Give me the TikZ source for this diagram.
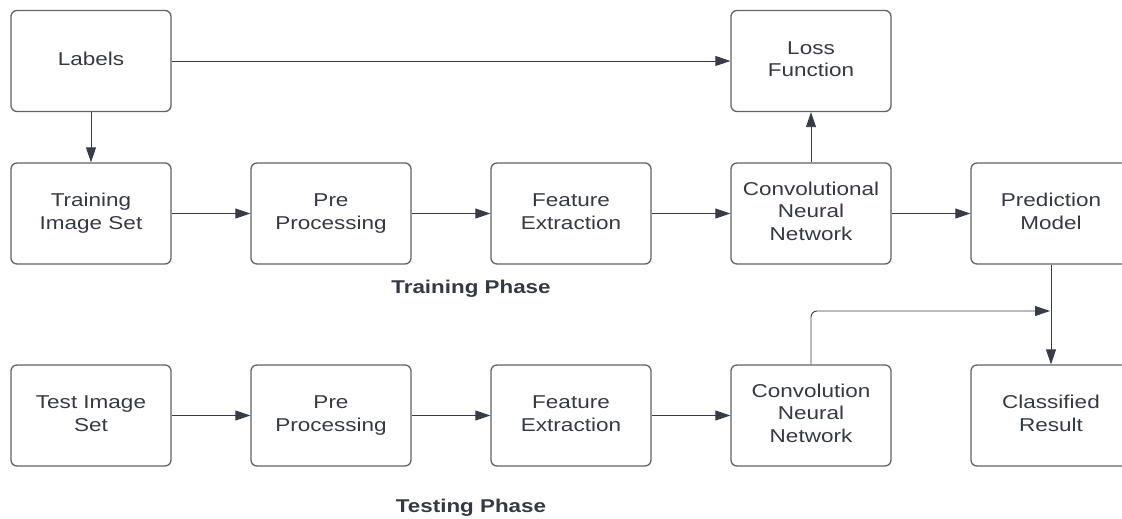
\documentclass[tikz,border=0pt]{standalone}
\usepackage{fontspec}
\setmainfont[FakeStretch=1.21]{Liberation Sans}
\usetikzlibrary{arrows.meta}
\definecolor{txt}{RGB}{52,58,68}
\definecolor{bord}{RGB}{95,100,108}
\definecolor{arrc}{RGB}{55,61,72}
\newcommand{\btxt}[2][3pt]{\raisebox{#1}{\begin{tabular}{@{}c@{}}#2\end{tabular}}}
\tikzset{
  box/.style={draw=bord, line width=1.3pt, rounded corners=6pt, minimum width=160pt, minimum height=101pt,
    inner sep=0pt, align=center, text=txt, font=\fontsize{18.6}{22.3}\selectfont},
  arr/.style={draw=arrc, line width=0.9pt, -{Triangle[length=15pt,width=10pt]}},
  phase/.style={text=txt, font=\fontsize{18.5}{22}\selectfont\bfseries}
}
\begin{document}
\begin{tikzpicture}[x=1pt,y=-1pt]
\useasboundingbox (0,0) rectangle (1122,519);
\clip (0,0) rectangle (1122,519);
\fill[white] (0,0) rectangle (1122,519);
% top row
\node[box] (lab) at (91,61) {\btxt[1pt]{Labels}};
\node[box] (loss) at (811,61) {\btxt{Loss\\Function}};
% training row
\node[box] (tis) at (91,213.5) {\btxt{Training\\Image Set}};
\node[box] (pp1) at (331,213.5) {\btxt{Pre\\Processing}};
\node[box] (fe1) at (571,213.5) {\btxt{Feature\\Extraction}};
\node[box] (cnn1) at (811,213.5) {\btxt[2pt]{Convolutional\\Neural\\Network}};
\node[box] (pred) at (1051,213.5) {\btxt{Prediction\\Model}};
% testing row
\node[box] (tes) at (91,415.5) {\btxt{Test Image\\Set}};
\node[box] (pp2) at (331,415.5) {\btxt{Pre\\Processing}};
\node[box] (fe2) at (571,415.5) {\btxt{Feature\\Extraction}};
\node[box] (cnn2) at (811,415.5) {\btxt[2pt]{Convolution\\Neural\\Network}};
\node[box] (cls) at (1051,415.5) {\btxt{Classified\\Result}};
% phase labels
\node[phase] (trp) at (471,289) {Training Phase};
\node[phase] (tsp) at (471,508) {Testing Phase};
% connectors
\draw[arr] (lab.east |- 0,61) -- (loss.west |- 0,61);
\draw[arr] (lab.south) -- (tis.north);
\draw[arr] (tis.east) -- (pp1.west);
\draw[arr] (pp1.east) -- (fe1.west);
\draw[arr] (fe1.east) -- (cnn1.west);
\draw[arr] (cnn1.east) -- (pred.west);
\draw[arr] (cnn1.north) -- (loss.south);
\draw[arr] (tes.east) -- (pp2.west);
\draw[arr] (pp2.east) -- (fe2.west);
\draw[arr] (fe2.east) -- (cnn2.west);
\draw[arr] (pred.south) -- (cls.north);
\coordinate (join) at (1050,311);
\draw[arr, rounded corners=6pt] (cnn2.north) |- (join);
\end{tikzpicture}
\end{document}
